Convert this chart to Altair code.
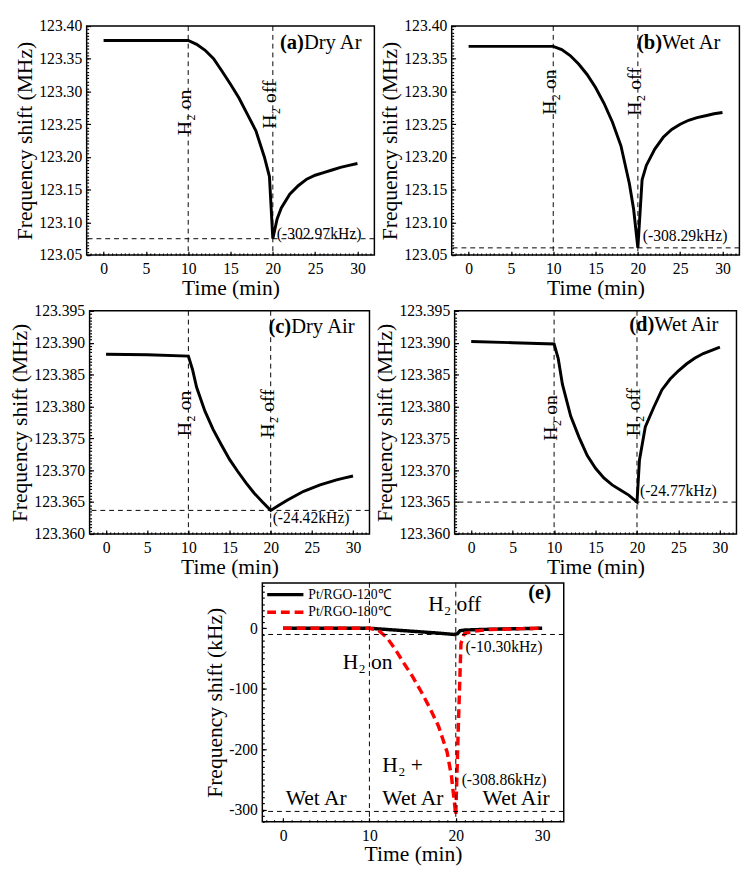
import altair as alt
import pandas as pd

FONT = "Liberation Serif"

# ---------------- data ----------------
# (a) Dry Ar
a_time = [0, 5, 10, 11, 12, 13, 14, 15, 16, 17, 18, 19, 19.6, 20, 20.5, 21, 22, 23, 24, 25, 26, 27, 28, 29, 30]
a_freq = [123.378, 123.378, 123.378, 123.372, 123.363, 123.350, 123.331, 123.311, 123.290, 123.265,
          123.240, 123.200, 123.170, 123.075, 123.105, 123.122, 123.143, 123.156, 123.166, 123.172,
          123.176, 123.180, 123.184, 123.187, 123.190]
# (b) Wet Ar
b_time = [0, 5, 10, 11, 12, 13, 14, 15, 16, 17, 18, 19, 19.5, 20, 20.5, 21, 22, 23, 24, 25, 26, 27, 28, 29, 30]
b_freq = [123.369, 123.369, 123.369, 123.364, 123.355, 123.342, 123.326, 123.306, 123.282, 123.253,
          123.217, 123.159, 123.120, 123.061, 123.165, 123.187, 123.212, 123.230, 123.242, 123.250,
          123.256, 123.260, 123.263, 123.266, 123.268]
# (c) Dry Air
c_time = [0, 5, 10, 10.5, 11, 12, 13, 14, 15, 16, 17, 18, 19, 20, 21, 22, 23, 24, 25, 26, 27, 28, 29, 30]
c_freq = [123.3882, 123.3881, 123.3879, 123.3858, 123.3830, 123.3793, 123.3764, 123.3740, 123.3717,
          123.3698, 123.3680, 123.3664, 123.3650, 123.3637, 123.3645, 123.3653, 123.3660, 123.3667,
          123.3672, 123.3677, 123.3681, 123.3685, 123.3688, 123.3691]
# (d) Wet Air
d_time = [0, 5, 10, 10.5, 11, 12, 13, 14, 15, 16, 17, 18, 19, 20, 20.3, 21, 22, 23, 24, 25, 26, 27, 28, 29, 30]
d_freq = [123.3902, 123.3900, 123.3898, 123.3875, 123.3835, 123.3785, 123.3752, 123.3723, 123.3703,
          123.3688, 123.3677, 123.3669, 123.3661, 123.3650, 123.3716, 123.3768, 123.3798, 123.3826,
          123.3843, 123.3856, 123.3867, 123.3876, 123.3883, 123.3888, 123.3893]
# (e) comparison
e_series = ["Pt/RGO-120\u2103", "Pt/RGO-180\u2103"]
e_time_120 = [0, 10, 12, 14, 16, 18, 19.8, 20.2, 20.5, 21, 23, 26, 30]
e_shift_120 = [0, 0, -2, -4, -6, -8, -10.3, -9, -4, -3, -2, -1, 0]
e_time_180 = [0, 10, 11, 12, 13, 14, 15, 16, 17, 18, 19, 19.5, 20, 20.3, 20.6, 21, 22, 24, 27, 30]
e_shift_180 = [0, 0, -3, -15, -35, -58, -80, -105, -132, -162, -205, -245, -308.86, -160, -25, -9,
               -5, -2, -1, 0]

gas_events = [10, 20]
gas_labels = ["H\u2082 on", "H\u2082 off"]
panel_tags = ["(a)", "(b)", "(c)", "(d)", "(e)"]
panel_names = ["Dry Ar", "Wet Ar", "Dry Air", "Wet Air"]
min_levels = [123.075, 123.061, 123.3637, 123.3650]
min_labels = ["(-302.97kHz)", "(-308.29kHz)", "(-24.42kHz)", "(-24.77kHz)"]
e_min_levels = [-10.3, -303]
e_min_labels = ["(-10.30kHz)", "(-308.86kHz)"]
e_notes = ["H\u2082 off", "H\u2082 on", "H\u2082 +", "Wet Ar", "Wet Ar", "Wet Air"]
e_note_t = [16.8, 6.9, 11.5, 0.3, 11.5, 23.1]
e_note_v = [28, -68, -237, -292, -292, -292]

x_major_ad = [0, 5, 10, 15, 20, 25, 30]
y_major_ab = [123.05, 123.10, 123.15, 123.20, 123.25, 123.30, 123.35, 123.40]
y_major_cd = [123.360, 123.365, 123.370, 123.375, 123.380, 123.385, 123.390, 123.395]
e_x_major = [0, 10, 20, 30]
e_y_major = [0, -100, -200, -300]

AXF = dict(labelFont=FONT, titleFont=FONT, labelFontSize=16, titleFontSize=22,
           labelColor="black", titleColor="black", titleFontWeight="normal", grid=False)

# ---------------- helpers ----------------
def tick_layers(df, xs, ys, xmaj, xmin, ymaj, ymin):
    out = []
    for vals_x, vals_y, size in [(xmaj, ymaj, 4), (xmin, ymin, 2)]:
        out.append(
            alt.Chart(df).mark_line(strokeOpacity=0).encode(
                x=alt.X("t:Q", scale=xs, axis=alt.Axis(
                    orient="bottom", offset=-size, tickSize=size, ticks=True, labels=False,
                    domain=False, title=None, values=vals_x, tickColor="black", tickWidth=1.2,
                    grid=False)),
                y=alt.Y("v:Q", scale=ys, axis=alt.Axis(
                    orient="left", offset=-size, tickSize=size, ticks=True, labels=False,
                    domain=False, title=None, values=vals_y, tickColor="black", tickWidth=1.2,
                    grid=False)),
            )
        )
    return out


def main_axes(xmaj, ymaj, yfmt, ytitle, ylabel_expr=None):
    xa = alt.Axis(orient="bottom", values=xmaj, format="d", title="Time (min)", ticks=False,
                  domain=False, labelPadding=6, titlePadding=1, **AXF)
    if ylabel_expr:
        ya = alt.Axis(orient="left", values=ymaj, title=ytitle, ticks=False, domain=False,
                      labelPadding=5, titlePadding=2, labelExpr=ylabel_expr, **AXF)
    else:
        ya = alt.Axis(orient="left", values=ymaj, format=yfmt, title=ytitle, ticks=False,
                      domain=False, labelPadding=5, titlePadding=2, **AXF)
    return xa, ya


def panel(idx, time, vals, w, h, ymaj, ymin, yfmt, on_v, off_v, min_dx, min_dy, tag_right, tag_y):
    df = pd.DataFrame({"t": time, "v": vals})
    xs = alt.Scale(domain=[-2, 32], nice=False, zero=False)
    ys = alt.Scale(domain=[ymaj[0], ymaj[-1]], nice=False, zero=False)
    xmin = [i * 0.5 for i in range(-3, 64)]
    xa, ya = main_axes(x_major_ad, ymaj, yfmt, "Frequency shift (MHz)")

    vrules = alt.Chart(pd.DataFrame({"t": gas_events})).mark_rule(
        color="black", strokeDash=[5, 4], strokeWidth=1).encode(
        x=alt.X("t:Q", scale=xs, axis=None))
    hrule = alt.Chart(pd.DataFrame({"v": [min_levels[idx]]})).mark_rule(
        color="black", strokeDash=[5, 4], strokeWidth=1).encode(
        y=alt.Y("v:Q", scale=ys, axis=None))
    line = alt.Chart(df).mark_line(color="black", strokeWidth=3).encode(
        x=alt.X("t:Q", scale=xs, axis=xa), y=alt.Y("v:Q", scale=ys, axis=ya))
    gas = alt.Chart(pd.DataFrame({"t": gas_events, "v": [on_v, off_v], "s": gas_labels})).mark_text(
        angle=270, align="center", baseline="alphabetic", dy=3, fontSize=20, font=FONT,
        color="black").encode(
        x=alt.X("t:Q", scale=xs, axis=None), y=alt.Y("v:Q", scale=ys, axis=None), text="s:N")
    mlab = alt.Chart(pd.DataFrame({"t": [20], "v": [min_levels[idx]], "s": [min_labels[idx]]})).mark_text(
        align="left", baseline="middle", dx=min_dx, dy=min_dy, fontSize=16, font=FONT,
        color="black").encode(
        x=alt.X("t:Q", scale=xs, axis=None), y=alt.Y("v:Q", scale=ys, axis=None), text="s:N")
    tag = alt.Chart(pd.DataFrame({"s": [panel_tags[idx]]})).mark_text(
        align="right", baseline="alphabetic", fontSize=21, fontWeight="bold", font=FONT,
        color="black").encode(x=alt.value(w - tag_right), y=alt.value(tag_y), text="s:N")
    name = alt.Chart(pd.DataFrame({"s": [panel_names[idx]]})).mark_text(
        align="left", baseline="alphabetic", fontSize=21, font=FONT,
        color="black").encode(x=alt.value(w - tag_right), y=alt.value(tag_y), text="s:N")

    layers = [line] + tick_layers(df, xs, ys, x_major_ad, xmin, ymaj, ymin) + [
        vrules, hrule, gas, mlab, tag, name]
    return alt.layer(*layers).resolve_axis(x="independent", y="independent").properties(
        width=w, height=h)


W1, H1 = 294, 234
W2, H2 = 286, 228
ymin_ab = [123.05 + i * 0.005 for i in range(71)]
ymin_cd = [123.36 + i * 0.0005 for i in range(71)]

pa = panel(0, a_time, a_freq, W1, H1, y_major_ab, ymin_ab, ".2f", 123.268, 123.280, 4, -5, 72, 23)
pb = panel(1, b_time, b_freq, W1, H1, y_major_ab, ymin_ab, ".2f", 123.299, 123.300, 5, -12, 79, 23)
pc = panel(2, c_time, c_freq, W2, H2, y_major_cd, ymin_cd, ".3f", 123.3789, 123.3789, 2, 8, 80, 23)
pd_ = panel(3, d_time, d_freq, W2 + 2, H2, y_major_cd, ymin_cd, ".3f", 123.3782, 123.3791, 3, -11, 84, 21)

# ---------------- panel (e) ----------------
WE, HE = 308, 244
e_df = pd.concat([
    pd.DataFrame({"t": e_time_120, "v": e_shift_120, "series": e_series[0]}),
    pd.DataFrame({"t": e_time_180, "v": e_shift_180, "series": e_series[1]}),
], ignore_index=True)
exs = alt.Scale(domain=[-2.4, 32.5], nice=False, zero=False)
eys = alt.Scale(domain=[-320, 75], nice=False, zero=False)
exa, eya = main_axes(e_x_major, e_y_major, "d", "Frequency shift (kHz)",
                     "datum.value < 0 ? '-' + abs(datum.value) : '' + datum.value")
leg = alt.Legend(title=None, orient="top-left", offset=3, padding=0, symbolType="stroke",
                 symbolSize=1369, symbolStrokeWidth=3.5, clipHeight=18, labelFont=FONT,
                 labelFontSize=14, labelColor="black", labelOffset=3, rowPadding=0)
e_line = alt.Chart(e_df).mark_line(strokeWidth=3.5).encode(
    x=alt.X("t:Q", scale=exs, axis=exa),
    y=alt.Y("v:Q", scale=eys, axis=eya),
    color=alt.Color("series:N", scale=alt.Scale(domain=e_series, range=["black", "#ff0000"]), legend=leg),
    strokeDash=alt.StrokeDash("series:N", scale=alt.Scale(domain=e_series, range=[[1, 0], [9, 5]]), legend=leg),
)
e_vr = alt.Chart(pd.DataFrame({"t": gas_events})).mark_rule(
    color="black", strokeDash=[5, 4], strokeWidth=1).encode(x=alt.X("t:Q", scale=exs, axis=None))
e_hr = alt.Chart(pd.DataFrame({"v": e_min_levels})).mark_rule(
    color="black", strokeDash=[5, 4], strokeWidth=1).encode(y=alt.Y("v:Q", scale=eys, axis=None))
e_notes_l = alt.Chart(pd.DataFrame({"t": e_note_t, "v": e_note_v, "s": e_notes})).mark_text(
    align="left", baseline="alphabetic", fontSize=22, font=FONT, color="black").encode(
    x=alt.X("t:Q", scale=exs, axis=None), y=alt.Y("v:Q", scale=eys, axis=None), text="s:N")
e_min1 = alt.Chart(pd.DataFrame({"t": [20], "v": [e_min_levels[0]], "s": [e_min_labels[0]]})).mark_text(
    align="left", baseline="middle", dx=10, dy=13, fontSize=16, font=FONT, color="black").encode(
    x=alt.X("t:Q", scale=exs, axis=None), y=alt.Y("v:Q", scale=eys, axis=None), text="s:N")
e_min2 = alt.Chart(pd.DataFrame({"t": [20], "v": [e_min_levels[1]], "s": [e_min_labels[1]]})).mark_text(
    align="left", baseline="middle", dx=6, dy=-32, fontSize=16, font=FONT, color="black").encode(
    x=alt.X("t:Q", scale=exs, axis=None), y=alt.Y("v:Q", scale=eys, axis=None), text="s:N")
e_tag = alt.Chart(pd.DataFrame({"s": [panel_tags[4]]})).mark_text(
    align="right", baseline="alphabetic", fontSize=21, fontWeight="bold", font=FONT,
    color="black").encode(x=alt.value(WE - 13), y=alt.value(16), text="s:N")

e_base = pd.DataFrame({"t": e_time_180, "v": e_shift_180})
e_ticks = tick_layers(e_base, exs, eys, e_x_major, list(range(-2, 33)), e_y_major,
                      [-320 + 10 * i for i in range(40)])
pe = alt.layer(e_line, *e_ticks, e_vr, e_hr, e_notes_l, e_min1, e_min2, e_tag).resolve_axis(
    x="independent", y="independent").properties(width=WE, height=HE)

chart = alt.vconcat(
    alt.hconcat(pa, pb, spacing=2),
    alt.hconcat(pc, pd_, spacing=2),
    pe,
    spacing=3,
    center=True,
).resolve_legend(
    color="independent", strokeDash="independent"
).properties(padding=0).configure(style={
    "guide-label": {"font": FONT, "fontSize": 16, "fill": "black"},
    "guide-title": {"font": FONT, "fontSize": 22, "fontWeight": "normal", "fill": "black"},
}).configure_axis(**AXF).configure_view(stroke="black", strokeWidth=1.5)

chart.save("out.html", embed_options={"renderer": "svg", "actions": False})
